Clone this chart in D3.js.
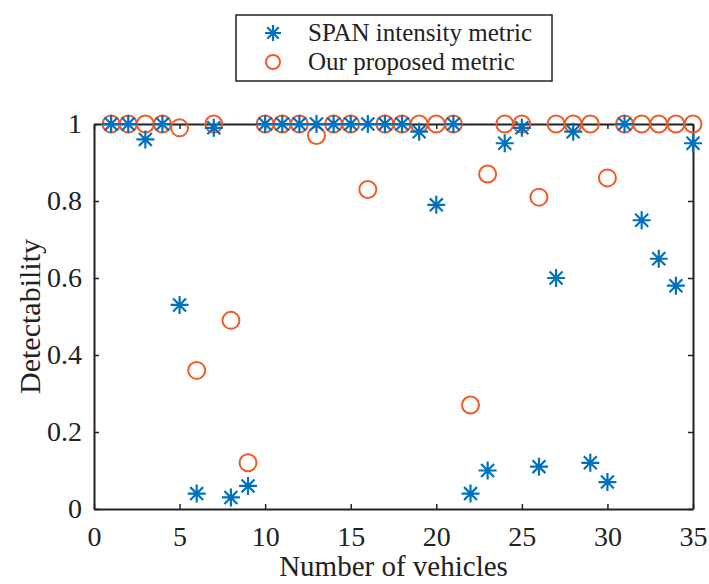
<!DOCTYPE html>
<html>
<head>
<meta charset="utf-8">
<script src="https://cdn.jsdelivr.net/npm/d3@7"></script>
<style>
  body { margin: 0; background: #fff; }
  text { font-family: "Liberation Serif", "Times New Roman", serif; fill: #222; }
</style>
</head>
<body>
<svg id="chart" width="709" height="584"></svg>
<script>
// vehicle index 1..35
const vehicles = d3.range(1, 36);
const spanMetric = [1, 1, 0.96, 1, 0.53, 0.04, 0.99, 0.03, 0.06, 1,
                    1, 1, 1, 1, 1, 1, 1, 1, 0.98, 0.79,
                    1, 0.04, 0.10, 0.95, 0.99, 0.11, 0.60, 0.98, 0.12, 0.07,
                    1, 0.75, 0.65, 0.58, 0.95];
const proposedMetric = [1, 1, 1, 1, 0.99, 0.36, 1, 0.49, 0.12, 1,
                        1, 1, 0.97, 1, 1, 0.83, 1, 1, 1, 1,
                        1, 0.27, 0.87, 1, 1, 0.81, 1, 1, 1, 0.86,
                        1, 1, 1, 1, 1];
const xTicks = [0, 5, 10, 15, 20, 25, 30, 35];
const yTicks = [0, 0.2, 0.4, 0.6, 0.8, 1];
const seriesNames = ["SPAN intensity metric", "Our proposed metric"];

const blue = "#0072BD", orange = "#F05A28";
const margin = {left: 94, right: 16, top: 124, bottom: 75};
const width = 709, height = 584;

const svg = d3.select("#chart");
const x = d3.scaleLinear().domain([0, 35]).range([margin.left, width - margin.right]);
const y = d3.scaleLinear().domain([0, 1]).range([height - margin.bottom, margin.top]);

// axes, ticks pointing inward like matlab
const gx = svg.append("g").attr("transform", `translate(0,${y(0)})`)
  .call(d3.axisBottom(x).tickValues(xTicks).tickSizeInner(-5).tickSizeOuter(0).tickPadding(17));
const gxTop = svg.append("g").attr("transform", `translate(0,${y(1)})`)
  .call(d3.axisTop(x).tickValues(xTicks).tickSizeInner(-5).tickSizeOuter(0).tickFormat(""));
const gy = svg.append("g").attr("transform", `translate(${x(0)},0)`)
  .call(d3.axisLeft(y).tickValues(yTicks).tickSizeInner(-5).tickSizeOuter(0).tickPadding(12).tickFormat(d3.format("")));
const gyRight = svg.append("g").attr("transform", `translate(${x(35)},0)`)
  .call(d3.axisRight(y).tickValues(yTicks).tickSizeInner(-5).tickSizeOuter(0).tickFormat(""));

[gx, gxTop, gy, gyRight].forEach(g => {
  g.attr("font-family", "'Liberation Serif', serif");
  g.select(".domain").attr("stroke", "#222").attr("stroke-width", 2);
  g.selectAll(".tick line").attr("stroke", "#222").attr("stroke-width", 1.5);
  g.selectAll(".tick text").style("font-size", "28px").attr("fill", "#222");
});

svg.append("text")
  .attr("x", (x(0) + x(35)) / 2).attr("y", 576)
  .attr("text-anchor", "middle").style("font-size", "29px")
  .text("Number of vehicles");

svg.append("text")
  .attr("transform", `translate(40,${(y(0) + y(1)) / 2}) rotate(-90)`)
  .attr("text-anchor", "middle").style("font-size", "30px")
  .text("Detectability");

// star marker: + and x overlaid
function star(g, r) {
  const d = r * 0.72;
  g.append("path")
    .attr("d", `M${-r},0H${r}M0,${-r}V${r}M${-d},${-d}L${d},${d}M${-d},${d}L${d},${-d}`)
    .attr("stroke", blue).attr("stroke-width", 2.2).attr("fill", "none");
}

const pts = svg.append("g");
pts.selectAll("circle")
  .data(vehicles)
  .join("circle")
    .attr("cx", d => x(d))
    .attr("cy", (d, i) => y(proposedMetric[i]))
    .attr("r", 8.5)
    .attr("fill", "none")
    .attr("stroke", orange)
    .attr("stroke-width", 2);

pts.selectAll("g.star")
  .data(vehicles)
  .join("g")
    .attr("class", "star")
    .attr("transform", (d, i) => `translate(${x(d)},${y(spanMetric[i])})`)
    .each(function() { star(d3.select(this), 9); });

// legend
const legend = svg.append("g");
legend.append("rect")
  .attr("x", 236).attr("y", 15).attr("width", 316).attr("height", 66)
  .attr("fill", "#fff").attr("stroke", "#222").attr("stroke-width", 1.5);
seriesNames.forEach((name, i) => {
  const cy = 33 + i * 29;
  const item = legend.append("g").attr("transform", `translate(273,${cy})`);
  if (i === 0) star(item, 8);
  else item.append("circle").attr("r", 7).attr("fill", "none").attr("stroke", orange).attr("stroke-width", 2);
  legend.append("text")
    .attr("x", 308).attr("y", cy).attr("dy", "0.33em")
    .style("font-size", "25px")
    .text(name);
});
</script>
</body>
</html>
